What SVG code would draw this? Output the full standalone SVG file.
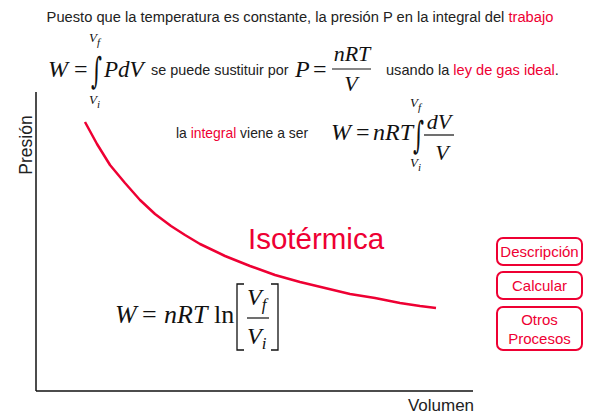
<svg xmlns="http://www.w3.org/2000/svg" width="600" height="420" viewBox="0 0 600 420">
<style>
.t{font-family:"Liberation Sans",Arial,sans-serif;fill:#222}
.r{fill:#ee0033}
.m{font-family:"Liberation Serif","Times New Roman",serif;font-style:italic;fill:#111}
.n{font-family:"Liberation Serif","Times New Roman",serif;fill:#111}
.int{font-family:"DejaVu Serif",serif;fill:#111}
.btn rect{fill:#fff;stroke:#ee0033;stroke-width:2}
.btn text{font-family:"Liberation Sans",Arial,sans-serif;font-size:15px;fill:#ee0033;text-anchor:middle}
</style>
<rect width="600" height="420" fill="#fff"/>
<g id="axes" stroke="#111" stroke-width="1.5" fill="none">
<line x1="36" y1="92" x2="36" y2="391"/>
<line x1="36" y1="391" x2="473" y2="391"/>
</g>
<text class="t" x="32" y="145" font-size="17.5" text-anchor="middle" transform="rotate(-90 32 145)">Presión</text>
<text class="t" x="441" y="411" font-size="17" text-anchor="middle">Volumen</text>
<text class="t" x="300" y="22" font-size="14.7" text-anchor="middle">Puesto que la temperatura es constante, la presión P en la integral del <tspan class="r">trabajo</tspan></text>
<g id="eq1">
<text class="m" x="48" y="77" font-size="24">W</text>
<text class="n" x="74" y="77" font-size="24">=</text>
<text class="int" transform="translate(91,83) scale(0.7,1.2)" font-size="30">∫</text>
<text class="m" x="89" y="42" font-size="13">V<tspan dy="4" font-size="11">f</tspan></text>
<text class="m" x="89" y="104" font-size="13">V<tspan dy="4" font-size="11">i</tspan></text>
<text class="m" x="104" y="77" font-size="23">PdV</text>
</g>
<text class="t" x="151" y="75" font-size="14.4">se puede sustituir por</text>
<g id="eq2">
<text class="m" x="295" y="77" font-size="24">P</text>
<text class="n" x="313" y="77" font-size="24">=</text>
<text class="m" x="352" y="61" font-size="22" text-anchor="middle">nRT</text>
<line x1="332" y1="69" x2="371" y2="69" stroke="#111" stroke-width="1.2"/>
<text class="m" x="351" y="91" font-size="22" text-anchor="middle">V</text>
</g>
<text class="t" x="386" y="75" font-size="14.6">usando la <tspan class="r">ley de gas ideal</tspan>.</text>
<text class="t" x="176" y="138" font-size="13.9">la <tspan class="r">integral</tspan> viene a ser</text>
<g id="eq3">
<text class="m" x="331" y="140" font-size="24">W</text>
<text class="n" x="356" y="140" font-size="24">=</text>
<text class="m" x="373" y="140" font-size="24">nRT</text>
<text class="int" transform="translate(413,148) scale(0.7,1.25)" font-size="30">∫</text>
<text class="m" x="410" y="107" font-size="13">V<tspan dy="4" font-size="11">f</tspan></text>
<text class="m" x="410" y="167" font-size="13">V<tspan dy="4" font-size="11">i</tspan></text>
<text class="m" x="439" y="129" font-size="22" text-anchor="middle">dV</text>
<line x1="424" y1="135" x2="454" y2="135" stroke="#111" stroke-width="1.2"/>
<text class="m" x="442" y="160" font-size="22" text-anchor="middle">V</text>
</g>
<g id="curve">
<polyline fill="none" stroke="#ee0033" stroke-width="2.5" stroke-linejoin="round" points="85,122 97,144 110,165 125,183 140,200 155,214 171,226 185,235 200,244 225,256 250,266 275,275 300,282 325,288 350,294 375,298 400,303 420,306 436,308"/>
</g>
<text class="r" x="248" y="249" font-size="29.5" font-family="Liberation Sans, Arial, sans-serif">Isotérmica</text>
<g id="eq4">
<text class="m" x="115" y="323" font-size="26">W</text>
<text class="n" x="142" y="323" font-size="26">=</text>
<text class="m" x="164" y="323" font-size="26">nRT</text>
<text class="n" x="214" y="323" font-size="26">ln</text>
<path d="M244,284 H237 V350 H244 M271,284 H278 V350 H271" fill="none" stroke="#111" stroke-width="1.3"/>
<text class="m" x="247" y="305" font-size="24">V<tspan dy="5" font-size="17">f</tspan></text>
<line x1="247" y1="318" x2="269" y2="318" stroke="#111" stroke-width="1.2"/>
<text class="m" x="247" y="344" font-size="24">V<tspan dy="5" font-size="17">i</tspan></text>
</g>
<g id="btn-descripcion" class="btn"><rect x="497" y="238" width="85" height="27" rx="6"/><text x="539.5" y="257">Descripción</text></g>
<g id="btn-calcular" class="btn"><rect x="497" y="272" width="85" height="27" rx="6"/><text x="539.5" y="291">Calcular</text></g>
<g id="btn-otros" class="btn"><rect x="497" y="307" width="85" height="43" rx="6"/><text x="539.5" y="325">Otros</text><text x="539.5" y="344">Procesos</text></g>
</svg>
